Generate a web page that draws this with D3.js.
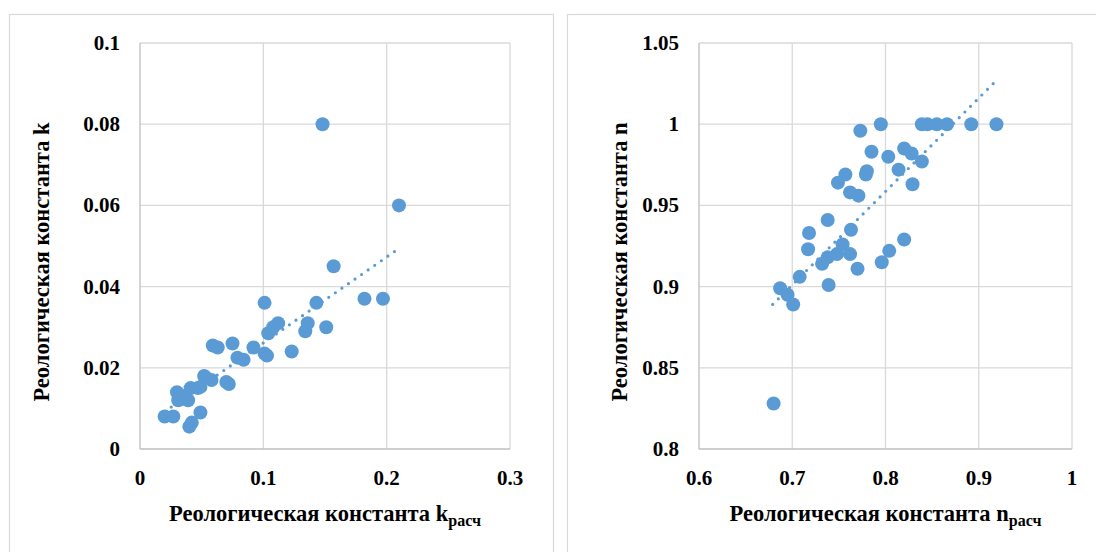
<!DOCTYPE html>
<html>
<head>
<meta charset="utf-8">
<script src="https://cdn.jsdelivr.net/npm/d3@7"></script>
<style>
  body { margin: 0; background: #fff; }
  svg { display: block; }
  svg text { font-family: "Times New Roman", "Liberation Serif", Tinos, "DejaVu Serif", serif; font-weight: 700; }
</style>
</head>
<body>
<svg id="chart" width="1096" height="552"></svg>
<script>
// left chart: k vs k_расч
var kCalc = [0.020, 0.027, 0.030, 0.031, 0.035, 0.039, 0.040, 0.041, 0.042, 0.047, 0.049, 0.049,
  0.052, 0.053, 0.058, 0.059, 0.063, 0.070, 0.072, 0.075, 0.079, 0.084, 0.092, 0.101, 0.101,
  0.103, 0.104, 0.108, 0.112, 0.123, 0.134, 0.136, 0.143, 0.148, 0.151, 0.157, 0.182, 0.197, 0.210];
var kExp = [0.008, 0.008, 0.014, 0.012, 0.013, 0.012, 0.0055, 0.015, 0.0065, 0.015, 0.009, 0.0153,
  0.018, 0.0177, 0.017, 0.0255, 0.025, 0.0165, 0.016, 0.026, 0.0225, 0.022, 0.025, 0.036, 0.0235,
  0.023, 0.0285, 0.030, 0.031, 0.024, 0.029, 0.031, 0.036, 0.080, 0.030, 0.045, 0.037, 0.037, 0.060];
var kTrendX = [0.020, 0.210];
var kTrendY = [0.0092, 0.0494];
var kTicksX = [0, 0.1, 0.2, 0.3];
var kTicksY = [0, 0.02, 0.04, 0.06, 0.08, 0.1];

// right chart: n vs n_расч
var nCalc = [0.680, 0.687, 0.695, 0.701, 0.708, 0.717, 0.718, 0.732, 0.738, 0.738, 0.739, 0.748,
  0.749, 0.754, 0.757, 0.762, 0.762, 0.763, 0.770, 0.771, 0.773, 0.779, 0.780, 0.785, 0.795,
  0.796, 0.803, 0.804, 0.814, 0.820, 0.820, 0.828, 0.829, 0.839, 0.839, 0.845, 0.855, 0.866,
  0.892, 0.919];
var nExp = [0.828, 0.899, 0.895, 0.889, 0.906, 0.923, 0.933, 0.914, 0.941, 0.918, 0.901, 0.920,
  0.964, 0.926, 0.969, 0.958, 0.920, 0.935, 0.911, 0.956, 0.996, 0.969, 0.971, 0.983, 1.000,
  0.915, 0.980, 0.922, 0.972, 0.985, 0.929, 0.982, 0.963, 0.977, 1.000, 1.000, 1.000, 1.000,
  1.000, 1.000];
var nTrendX = [0.679, 0.919];
var nTrendY = [0.889, 1.027];
var nTicksX = [0.6, 0.7, 0.8, 0.9, 1];
var nTicksY = [0.8, 0.85, 0.9, 0.95, 1, 1.05];

var svg = d3.select("#chart");
var blue = "#5B9BD5";

function drawPanel(o) {
  var g = svg.append("g");
  // panel frame
  g.append("rect").attr("x", o.box[0] + 0.5).attr("y", 14.5)
    .attr("width", o.box[1] - o.box[0]).attr("height", 600)
    .attr("fill", "none").attr("stroke", "#d9d9d9").attr("stroke-width", 1.2);

  var x = d3.scaleLinear().domain(o.xd).range([o.left, o.right]);
  var y = d3.scaleLinear().domain(o.yd).range([449, 43]);

  // gridlines
  g.append("g").selectAll("line.v").data(o.tx.slice(1)).enter().append("line")
    .attr("x1", d => x(d)).attr("x2", d => x(d)).attr("y1", y(o.yd[0])).attr("y2", y(o.yd[1]))
    .attr("stroke", "#d9d9d9").attr("stroke-width", 1.3);
  g.append("g").selectAll("line.h").data(o.ty.slice(1)).enter().append("line")
    .attr("y1", d => y(d)).attr("y2", d => y(d)).attr("x1", x(o.xd[0])).attr("x2", x(o.xd[1]))
    .attr("stroke", "#d9d9d9").attr("stroke-width", 1.3);
  // axis lines
  g.append("line").attr("x1", x(o.xd[0])).attr("x2", x(o.xd[1])).attr("y1", y(o.yd[0])).attr("y2", y(o.yd[0]))
    .attr("stroke", "#bfbfbf").attr("stroke-width", 1.3);
  g.append("line").attr("x1", x(o.xd[0])).attr("x2", x(o.xd[0])).attr("y1", y(o.yd[0])).attr("y2", y(o.yd[1]))
    .attr("stroke", "#bfbfbf").attr("stroke-width", 1.3);

  // tick labels
  g.append("g").selectAll("text").data(o.tx).enter().append("text")
    .attr("x", d => x(d)).attr("y", 485).attr("text-anchor", "middle")
    .attr("font-size", 21).text(d => d3.format("")(d));
  g.append("g").selectAll("text").data(o.ty).enter().append("text")
    .attr("x", o.left - 20).attr("y", d => y(d) + 7).attr("text-anchor", "end")
    .attr("font-size", 21).text(d => d3.format("")(d));

  // trendline
  var line = d3.line().x(d => x(d[0])).y(d => y(d[1]));
  g.append("path").datum(d3.zip(o.trendX, o.trendY)).attr("d", line)
    .attr("fill", "none").attr("stroke", blue).attr("stroke-width", 3.2)
    .attr("stroke-linecap", "round").attr("stroke-dasharray", "0 8");

  // points
  g.append("g").selectAll("circle").data(d3.zip(o.px, o.py)).enter().append("circle")
    .attr("cx", d => x(d[0])).attr("cy", d => y(d[1])).attr("r", 7)
    .attr("fill", blue);

  // axis titles
  var t = g.append("text").attr("x", (o.left + o.right) / 2).attr("y", 521)
    .attr("text-anchor", "middle").attr("font-size", 22.5);
  t.append("tspan").text(o.xTitle);
  t.append("tspan").attr("dy", 5).attr("font-size", 16).text("расч");
  g.append("text").attr("transform", "translate(" + o.yTitleX + ",262) rotate(-90)")
    .attr("text-anchor", "middle").attr("font-size", 22.5).text(o.yTitle);
}

drawPanel({
  box: [9, 553], left: 140, right: 510, xd: [0, 0.3], yd: [0, 0.1],
  tx: kTicksX, ty: kTicksY, px: kCalc, py: kExp, trendX: kTrendX, trendY: kTrendY,
  xTitle: "Реологическая константа k", yTitle: "Реологическая константа k", yTitleX: 49
});
drawPanel({
  box: [567, 1120], left: 699, right: 1072, xd: [0.6, 1], yd: [0.8, 1.05],
  tx: nTicksX, ty: nTicksY, px: nCalc, py: nExp, trendX: nTrendX, trendY: nTrendY,
  xTitle: "Реологическая константа n", yTitle: "Реологическая константа n", yTitleX: 627
});
</script>
</body>
</html>
